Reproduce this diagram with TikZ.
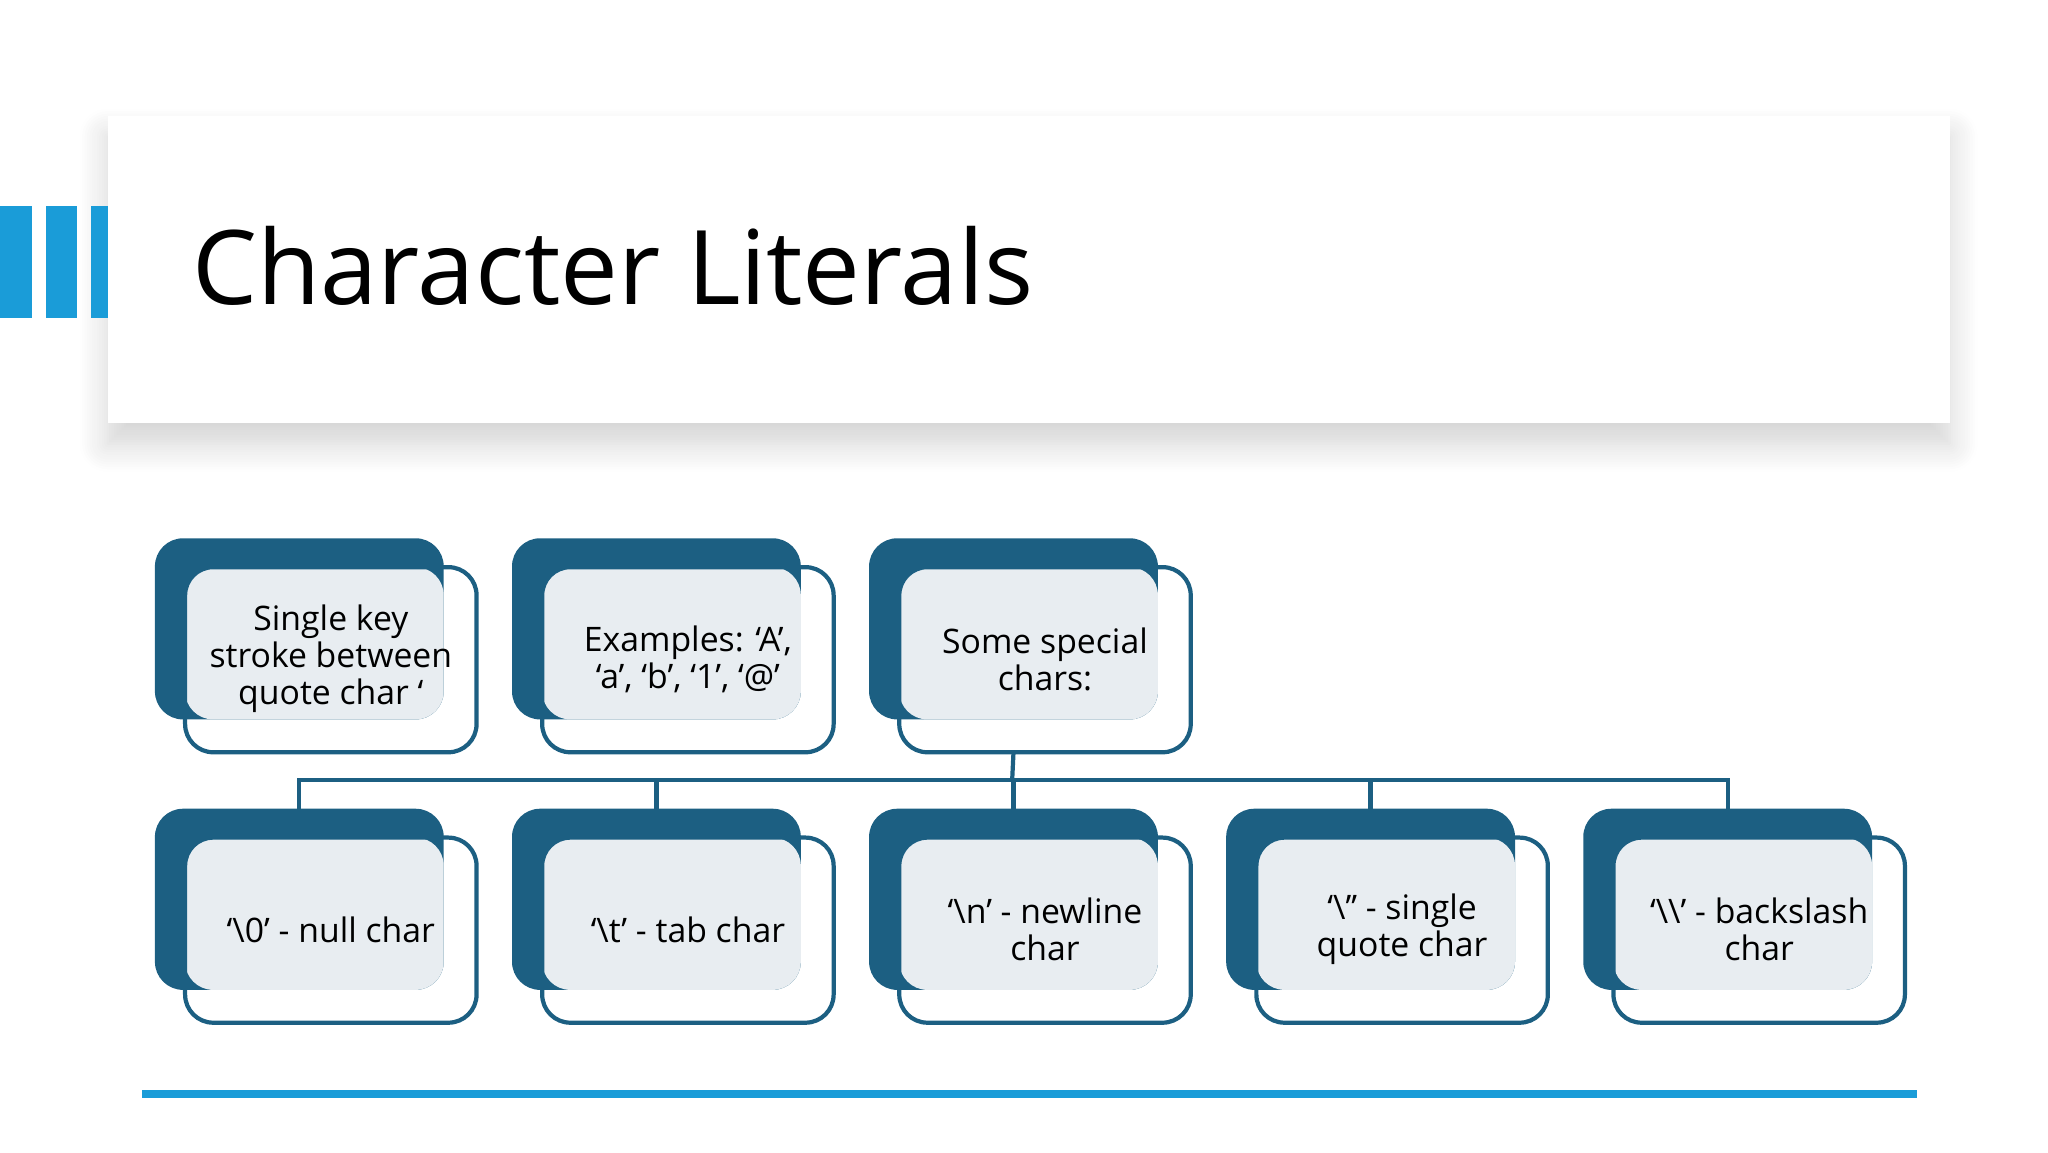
\documentclass[tikz,border=0pt]{standalone}
\usepackage{fontspec}
\setmainfont{Open Sans}
\usetikzlibrary{shadows.blur}
\definecolor{dk}{HTML}{1C5F82}
\definecolor{lt}{HTML}{E8EDF1}
\definecolor{bl}{HTML}{1A9CD8}
\tikzset{
 back/.style={fill=dk,rounded corners=8pt},
 lite/.style={fill=lt,rounded corners=8pt},
 front/.style={draw=dk,line width=1.2pt,rounded corners=8pt},
 lbl/.style={align=center,font=\fontsize{9.6}{10.5}\selectfont,text=black},
 conn/.style={draw=dk,line width=1.2pt},
 bar/.style={fill=bl}
}
\begin{document}
\begin{tikzpicture}[x=0.01313cm,y=-0.01313cm]
\useasboundingbox (0,0) rectangle (1560,877.5);
\node[fill=white,minimum width=1403*0.01313cm,minimum height=234*0.01313cm,inner sep=0,blur shadow={shadow xshift=0pt,shadow yshift=-6pt,shadow blur steps=12,shadow blur radius=8pt,shadow opacity=18}] (title) at (783.5,205) {};
\fill[bar] (0,157) rectangle (24,242);
\fill[bar] (35,157) rectangle (59,242);
\fill[bar] (69,157) rectangle (82,242);
\node[anchor=base west,font=\fontsize{29.3}{35}\selectfont,inner sep=0] (tt) at (146,232) {Character Literals};
% boxes
\foreach \i/\c/\r/\t in {
 a/0/0/{Single key\\stroke between\\quote char ‘},
 b/1/0/{Examples: ‘A’,\\‘a’, ‘b’, ‘1’, ‘@’},
 c/2/0/{Some special\\chars:},
 d/0/1/{‘\textbackslash0’ - null char},
 e/1/1/{‘\textbackslash t’ - tab char},
 f/2/1/{‘\textbackslash n’ - newline\\char},
 g/3/1/{‘\textbackslash’’ - single\\quote char},
 h/4/1/{‘\textbackslash\textbackslash’ - backslash\\char}} {
 \pgfmathsetmacro\xx{118+272*\c}
 \pgfmathsetmacro\yy{410+206*\r}
 \fill[back] (\xx,\yy) rectangle ++(220,138);
 \coordinate (top\i) at (\xx+110,\yy);
 \fill[lite] (\xx+23,\yy+22) rectangle (\xx+220,\yy+138);
 \draw[front] (\xx+23,\yy+22) rectangle (\xx+245,\yy+163);
 \coordinate (bot\i) at (\xx+110,\yy+163);
 \node[lbl] (t\i) at (\xx+134,\yy+92) {\t};
}
\coordinate (hub) at (771,594);
\draw[conn] (botc) -- (hub);
\draw[conn] (topd) |- (hub) -| (toph);
\draw[conn] (tope) -- (tope|-hub);
\draw[conn] (topf) -- (topf|-hub);
\draw[conn] (topg) -- (topg|-hub);
\fill[bl] (108,830) rectangle (1460,836);
\end{tikzpicture}
\end{document}
